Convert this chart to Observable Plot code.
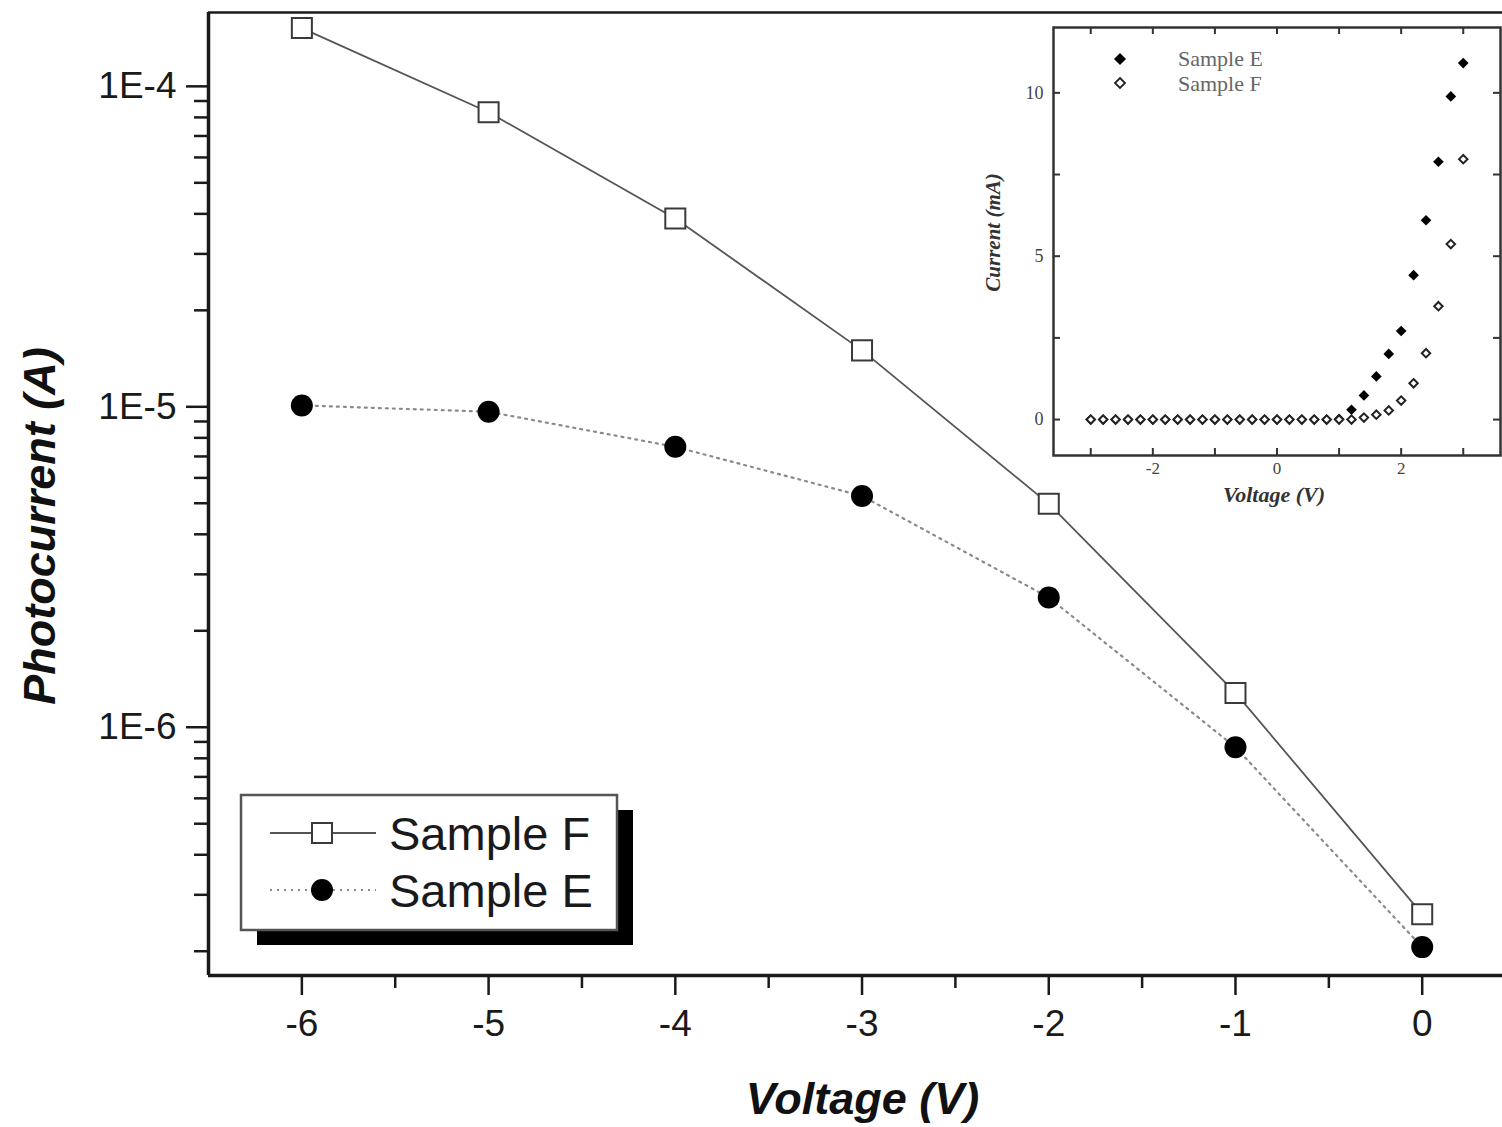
<!DOCTYPE html>
<html><head><meta charset="utf-8">
<script src="https://cdn.jsdelivr.net/npm/d3@7"></script>
<script src="https://cdn.jsdelivr.net/npm/@observablehq/plot@0.6"></script>
<style>
body{margin:0;background:#fff;}
#wrap{position:relative;width:1502px;height:1127px;overflow:hidden;background:#fff;}
#main,#inset,#legend,#insetLegend{position:absolute;top:0;}
#main{left:0;width:1502px;}
#inset{left:960px;width:560px;}
svg{max-width:none !important;}
</style></head>
<body><div id="wrap"><div id="main"></div><div id="inset"></div><div id="legend"></div><div id="insetLegend"></div></div>
<script>
// ---- Main chart data ----
const voltage = [-6, -5, -4, -3, -2, -1, 0];
const sampleF = [1.52e-4, 8.3e-5, 3.87e-5, 1.5e-5, 4.98e-6, 1.28e-6, 2.61e-7];
const sampleE = [1.01e-5, 9.65e-6, 7.5e-6, 5.27e-6, 2.54e-6, 8.66e-7, 2.06e-7];
const yMajorTicks = [1e-4, 1e-5, 1e-6];
const xMajorTicks = [-6, -5, -4, -3, -2, -1, 0];
const xMinorTicks = [-5.5, -4.5, -3.5, -2.5, -1.5, -0.5];

// ---- Inset data ----
const insetV = [-3.0,-2.8,-2.6,-2.4,-2.2,-2.0,-1.8,-1.6,-1.4,-1.2,-1.0,-0.8,-0.6,-0.4,-0.2,0.0,0.2,0.4,0.6,0.8,1.0,1.2,1.4,1.6,1.8,2.0,2.2,2.4,2.6,2.8,3.0];
const insetE = [0,0,0,0,0,0,0,0,0,0,0,0,0,0,0,0,0,0,0,0,0.02,0.30,0.74,1.32,2.01,2.71,4.42,6.10,7.89,9.89,10.91];
const insetF = [0,0,0,0,0,0,0,0,0,0,0,0,0,0,0,0,0,0,0,0,0,0,0.06,0.15,0.28,0.58,1.11,2.03,3.47,5.37,7.97];
const insetXLabels = [-2, 0, 2];
const insetXTicks = [-3, -2, -1, 0, 1, 2, 3];
const insetYLabels = [0, 5, 10];
const insetYTicks = [0, 2.5, 5, 7.5, 10];

const mainF = voltage.map((v, i) => ({v, c: sampleF[i]}));
const mainE = voltage.map((v, i) => ({v, c: sampleE[i]}));
const inE = insetV.map((v, i) => ({v, c: insetE[i]}));
const inF = insetV.map((v, i) => ({v, c: insetF[i]}));

const yDomain = [1.68e-7, 1.7e-4];
const xDomain = [-6.5, 0.43];
const yMinorTicks = [];
for (let e = -7; e <= -4; e++) for (let m = 2; m <= 9; m++) {
  const val = m * Math.pow(10, e);
  if (val > yDomain[0] && val < yDomain[1]) yMinorTicks.push(val);
}
const fmt = d => "1E" + Math.round(Math.log10(d));
const plain = d => String(d);
const sans = "Liberation Sans, Arial, Helvetica, sans-serif";
const serif = "Liberation Serif, Times New Roman, DejaVu Serif, serif";

const main = Plot.plot({
  width: 1502, height: 1127,
  marginLeft: 208, marginRight: 0, marginTop: 12, marginBottom: 152,
  style: {fontFamily: sans, background: "transparent", color: "#1a1a1a", maxWidth: "none"},
  x: {domain: xDomain},
  y: {type: "log", domain: yDomain},
  marks: [
    Plot.axisY({ticks: yMajorTicks, tickFormat: fmt, tickSize: 22, tickPadding: 10, fontSize: 37, label: null, strokeWidth: 2.5}),
    Plot.axisY({ticks: yMinorTicks, tickFormat: () => "", tickSize: 14, label: null, strokeWidth: 2.5}),
    Plot.axisX({ticks: xMajorTicks, tickFormat: plain, tickSize: 20, tickPadding: 14, fontSize: 37, label: null, strokeWidth: 2.5}),
    Plot.axisX({ticks: xMinorTicks, tickFormat: () => "", tickSize: 13, label: null, strokeWidth: 2.5}),
    Plot.ruleX([xDomain[0]], {stroke: "#1a1a1a", strokeWidth: 3.5}),
    Plot.ruleY([yDomain[0]], {stroke: "#1a1a1a", strokeWidth: 3.5}),
    Plot.ruleY([yDomain[1]], {stroke: "#1a1a1a", strokeWidth: 2.5}),
    Plot.line(mainE, {x: "v", y: "c", stroke: "#8a8a8a", strokeWidth: 2.2, strokeDasharray: "2,5"}),
    Plot.line(mainF, {x: "v", y: "c", stroke: "#555", strokeWidth: 1.8}),
    Plot.dot(mainE, {x: "v", y: "c", r: 11, fill: "#000", stroke: "none"}),
    Plot.dot(mainF, {x: "v", y: "c", symbol: "square", r: 11.3, fill: "#fff", stroke: "#3a3a3a", strokeWidth: 2}),
    Plot.text(["Photocurrent (A)"], {frameAnchor: "left", textAnchor: "middle", dx: -168, dy: 32, rotate: -90, fontSize: 45, fontWeight: "bold", fontStyle: "italic", fill: "#111"}),
    Plot.text(["Voltage (V)"], {frameAnchor: "bottom", textAnchor: "middle", dx: 7, dy: 138, fontSize: 45, fontWeight: "bold", fontStyle: "italic", fill: "#111"})
  ]
});
document.getElementById("main").appendChild(main);

const iW = 560, iH = 530, iL = 93, iR = 20, iT = 27, iB = 75;
const innerW = iW - iL - iR, innerH = iH - iT - iB, tk = 7;
const inset = Plot.plot({
  width: iW, height: iH,
  marginLeft: iL, marginRight: iR, marginTop: iT, marginBottom: iB,
  style: {fontFamily: serif, background: "transparent", color: "#444", maxWidth: "none"},
  x: {domain: [-3.6, 3.6]},
  y: {domain: [-1.1, 12]},
  marks: [
    Plot.frame({stroke: "#333", strokeWidth: 2.5}),
    Plot.axisX({ticks: insetXLabels, tickFormat: plain, tickSize: 0, tickPadding: 6, fontSize: 17, label: null}),
    Plot.axisY({ticks: insetYLabels, tickFormat: plain, tickSize: 0, tickPadding: 10, fontSize: 18, label: null}),
    Plot.tickX(insetXTicks, {x: d => d, insetTop: innerH - tk, stroke: "#333", strokeWidth: 2}),
    Plot.tickX(insetXTicks, {x: d => d, insetBottom: innerH - tk, stroke: "#333", strokeWidth: 2}),
    Plot.tickY(insetYTicks, {y: d => d, insetRight: innerW - tk, stroke: "#333", strokeWidth: 2}),
    Plot.tickY(insetYTicks, {y: d => d, insetLeft: innerW - tk, stroke: "#333", strokeWidth: 2}),
    Plot.dot(inE, {x: "v", y: "c", symbol: "diamond2", r: 4.8, fill: "#000", stroke: "none"}),
    Plot.dot(inF, {x: "v", y: "c", symbol: "diamond2", r: 3.8, fill: "#fff", stroke: "#222", strokeWidth: 2}),
    Plot.text(["Current (mA)"], {frameAnchor: "left", textAnchor: "middle", dx: -60, dy: -9, rotate: -90, fontSize: 21, fontWeight: "bold", fontStyle: "italic", fill: "#333"}),
    Plot.text(["Voltage (V)"], {frameAnchor: "bottom", textAnchor: "middle", dx: -3, dy: 46, fontSize: 22, fontWeight: "bold", fontStyle: "italic", fill: "#333"})
  ]
});
document.getElementById("inset").appendChild(inset);

// ---- Main legend ----
const ns = "http://www.w3.org/2000/svg";
function legendMain() {
  const el = document.getElementById("legend");
  el.style.left = "236px"; el.style.top = "790px";
  el.innerHTML = `<svg xmlns="${ns}" width="405" height="165" style="font-family:${sans}">
    <rect x="21" y="20" width="376" height="135" fill="#000"/>
    <rect x="5" y="5" width="376" height="135" fill="#fff" stroke="#555" stroke-width="2.5"/>
    <line x1="34" y1="43" x2="140" y2="43" stroke="#555" stroke-width="1.8"/>
    <rect x="76" y="33" width="20" height="20" fill="#fff" stroke="#3a3a3a" stroke-width="2"/>
    <text x="153" y="60" font-size="47" fill="#1a1a1a">Sample F</text>
    <line x1="34" y1="100" x2="140" y2="100" stroke="#8a8a8a" stroke-width="2.2" stroke-dasharray="2,5"/>
    <circle cx="86" cy="100" r="11" fill="#000"/>
    <text x="153" y="117" font-size="47" fill="#1a1a1a">Sample E</text>
  </svg>`;
}
legendMain();

function legendInset() {
  const el = document.getElementById("insetLegend");
  el.style.left = "1100px"; el.style.top = "40px";
  el.innerHTML = `<svg xmlns="${ns}" width="220" height="60" style="font-family:${serif}">
    <path d="M20,13 l6,6 l-6,6 l-6,-6 z" fill="#000"/>
    <text x="78" y="26" font-size="22" fill="#666">Sample E</text>
    <path d="M20,38 l5,5 l-5,5 l-5,-5 z" fill="#fff" stroke="#222" stroke-width="1.8"/>
    <text x="78" y="51" font-size="22" fill="#666">Sample F</text>
  </svg>`;
}
legendInset();
</script>
</body></html>
